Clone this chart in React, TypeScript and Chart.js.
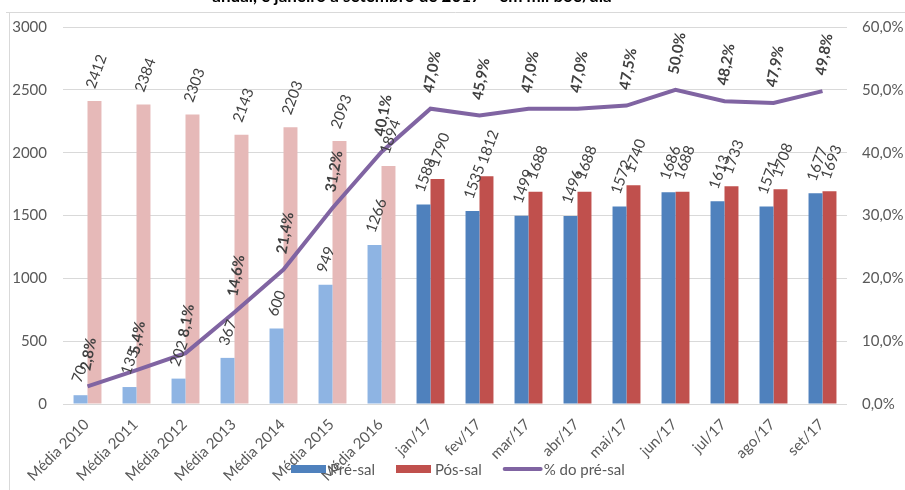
import React, { useEffect, useRef } from "react";
import { Chart, registerables } from "chart.js";

Chart.register(...registerables);

// ---------- data ----------
const categories = [
  "Média 2010", "Média 2011", "Média 2012", "Média 2013", "Média 2014", "Média 2015", "Média 2016",
  "jan/17", "fev/17", "mar/17", "abr/17", "mai/17", "jun/17", "jul/17", "ago/17", "set/17",
];
const preSal = [70, 135, 202, 367, 600, 949, 1266, 1588, 1535, 1499, 1496, 1572, 1686, 1613, 1571, 1677];
const posSal = [2412, 2384, 2303, 2143, 2203, 2093, 1894, 1790, 1812, 1688, 1688, 1740, 1688, 1733, 1708, 1693];
const pctPreSal = [2.8, 5.4, 8.1, 14.6, 21.4, 31.2, 40.1, 47.0, 45.9, 47.0, 47.0, 47.5, 50.0, 48.2, 47.9, 49.8];
const annualCount = 7; // first categories are annual averages (lighter colours)
const leftAxisMax = 3000;
const leftAxisStep = 500;
const rightAxisMax = 60;
const rightAxisStep = 10;
const titleText = "anual, e janeiro a setembro de 2017 – em mil boe/dia";
const seriesNames = ["Pré-sal", "Pós-sal", "% do pré-sal"];

// ---------- styles ----------
const BLUE = "#4F81BD";
const BLUE_LIGHT = "#8EB4E3";
const RED = "#C0504D";
const RED_LIGHT = "#E6B9B8";
const PURPLE = "#8064A2";
const AXIS_TEXT = "#595959";
const LABEL_TEXT = "#404040";
const GRID = "#D9D9D9";
const FONT = "Lato";

const fmtPct = (v: number) => v.toFixed(1).replace(".", ",") + "%";

const framePlugin = {
  id: "frame",
  beforeDraw(chart: any) {
    const ctx = chart.ctx;
    ctx.save();
    ctx.strokeStyle = GRID;
    ctx.lineWidth = 1;
    ctx.beginPath();
    ctx.moveTo(6, 12.5);
    ctx.lineTo(chart.width, 12.5);
    ctx.moveTo(9.5, 12.5);
    ctx.lineTo(9.5, chart.height);
    ctx.stroke();
    ctx.restore();
  },
};

const xLabelPlugin = {
  id: "xLabels",
  afterDraw(chart: any) {
    const ctx = chart.ctx;
    const xs = chart.scales.x;
    ctx.save();
    ctx.font = `15px ${FONT}`;
    ctx.fillStyle = AXIS_TEXT;
    ctx.textAlign = "right";
    ctx.textBaseline = "middle";
    (chart.data.labels as string[]).forEach((lab, i) => {
      const x = xs.getPixelForTick(i);
      ctx.save();
      ctx.translate(x - 1, xs.top + 18);
      ctx.rotate(-Math.PI / 4);
      ctx.fillText(lab, 0, 0);
      ctx.restore();
    });
    ctx.restore();
  },
};

const valueLabelPlugin = {
  id: "valueLabels",
  afterDatasetsDraw(chart: any) {
    const ctx = chart.ctx;
    ctx.save();
    ctx.fillStyle = LABEL_TEXT;
    ctx.textAlign = "left";
    ctx.textBaseline = "middle";
    chart.data.datasets.forEach((ds: any, di: number) => {
      const meta = chart.getDatasetMeta(di);
      meta.data.forEach((el: any, i: number) => {
        const v = ds.data[i] as number;
        ctx.save();
        if (ds.type === "line") {
          ctx.font = `bold 15px ${FONT}`;
          ctx.translate(el.x - 2, el.y - 16);
          ctx.rotate((-80 * Math.PI) / 180);
          ctx.fillText(fmtPct(v), 0, 0);
        } else {
          ctx.font = `15px ${FONT}`;
          ctx.translate(el.x - 4, el.y - 13);
          ctx.rotate((-70 * Math.PI) / 180);
          ctx.fillText(String(v), 0, 0);
        }
        ctx.restore();
      });
    });
    ctx.restore();
  },
};

const titleLegendPlugin = {
  id: "titleLegend",
  afterDraw(chart: any) {
    const ctx = chart.ctx;
    ctx.save();
    // title (cut off at the top in the reference)
    ctx.font = `bold 17px ${FONT}`;
    ctx.fillStyle = "#000000";
    ctx.textAlign = "center";
    ctx.textBaseline = "alphabetic";
    ctx.fillText(titleText, 412, 2);

    // legend
    ctx.font = `15px ${FONT}`;
    ctx.textAlign = "left";
    ctx.textBaseline = "middle";
    const y = 469;
    let x = 291;
    const colors = [BLUE, RED];
    for (let k = 0; k < 2; k++) {
      ctx.fillStyle = colors[k];
      ctx.fillRect(x, y - 4, 35, 8);
      x += 39;
      ctx.fillStyle = AXIS_TEXT;
      ctx.fillText(seriesNames[k], x, y + 1);
      x += ctx.measureText(seriesNames[k]).width + 21;
    }
    ctx.strokeStyle = PURPLE;
    ctx.lineWidth = 4;
    ctx.lineCap = "round";
    ctx.beginPath();
    ctx.moveTo(x + 2, y);
    ctx.lineTo(x + 38, y);
    ctx.stroke();
    ctx.fillStyle = AXIS_TEXT;
    ctx.fillText(seriesNames[2], x + 41, y + 1);
    ctx.restore();
  },
};

export default function App() {
  const canvasRef = useRef<HTMLCanvasElement | null>(null);

  useEffect(() => {
    const canvas = canvasRef.current;
    if (!canvas) return;
    const chart = new Chart(canvas, {
      type: "bar",
      data: {
        labels: categories,
        datasets: [
          {
            type: "line",
            label: seriesNames[2],
            data: pctPreSal,
            yAxisID: "y1",
            borderColor: PURPLE,
            backgroundColor: PURPLE,
            borderWidth: 4,
            pointRadius: 0,
            tension: 0,
            order: 0,
          } as any,
          {
            type: "bar",
            label: seriesNames[0],
            data: preSal,
            yAxisID: "y",
            backgroundColor: preSal.map((_, i) => (i < annualCount ? BLUE_LIGHT : BLUE)),
            categoryPercentage: 0.57,
            barPercentage: 1,
            order: 1,
          },
          {
            type: "bar",
            label: seriesNames[1],
            data: posSal,
            yAxisID: "y",
            backgroundColor: posSal.map((_, i) => (i < annualCount ? RED_LIGHT : RED)),
            categoryPercentage: 0.57,
            barPercentage: 1,
            order: 1,
          },
        ],
      },
      options: {
        responsive: false,
        animation: false,
        layout: { padding: { top: 27, left: 0, right: 0, bottom: 0 } },
        plugins: {
          legend: { display: false },
          title: { display: false },
          tooltip: { enabled: false },
        },
        scales: {
          x: {
            offset: true,
            grid: { display: false, drawTicks: false },
            border: { display: false },
            ticks: { display: false },
            afterFit(scale: any) {
              scale.height = 86;
              scale.paddingLeft = 0;
              scale.paddingRight = 0;
            },
          },
          y: {
            position: "left",
            min: 0,
            max: leftAxisMax,
            grid: { color: GRID, lineWidth: 1, drawTicks: false },
            border: { display: false },
            ticks: {
              stepSize: leftAxisStep,
              color: AXIS_TEXT,
              font: { family: FONT, size: 15 },
              padding: 16,
              callback: (v: any) => String(v),
            },
            afterFit(scale: any) {
              scale.width = 63;
            },
          },
          y1: {
            position: "right",
            min: 0,
            max: rightAxisMax,
            grid: { display: false, drawTicks: false },
            border: { display: false },
            ticks: {
              stepSize: rightAxisStep,
              color: AXIS_TEXT,
              font: { family: FONT, size: 15 },
              padding: 15,
              callback: (v: any) => fmtPct(Number(v)),
            },
            afterFit(scale: any) {
              scale.width = 58;
            },
          },
        },
      },
      plugins: [framePlugin, valueLabelPlugin, xLabelPlugin, titleLegendPlugin],
    });
    return () => chart.destroy();
  }, []);

  return (
    <div style={{ position: "fixed", left: 0, top: 0, width: 905, height: 490, background: "#fff" }}>
      <canvas ref={canvasRef} width={905} height={490} style={{ width: 905, height: 490, display: "block" }} />
    </div>
  );
}
